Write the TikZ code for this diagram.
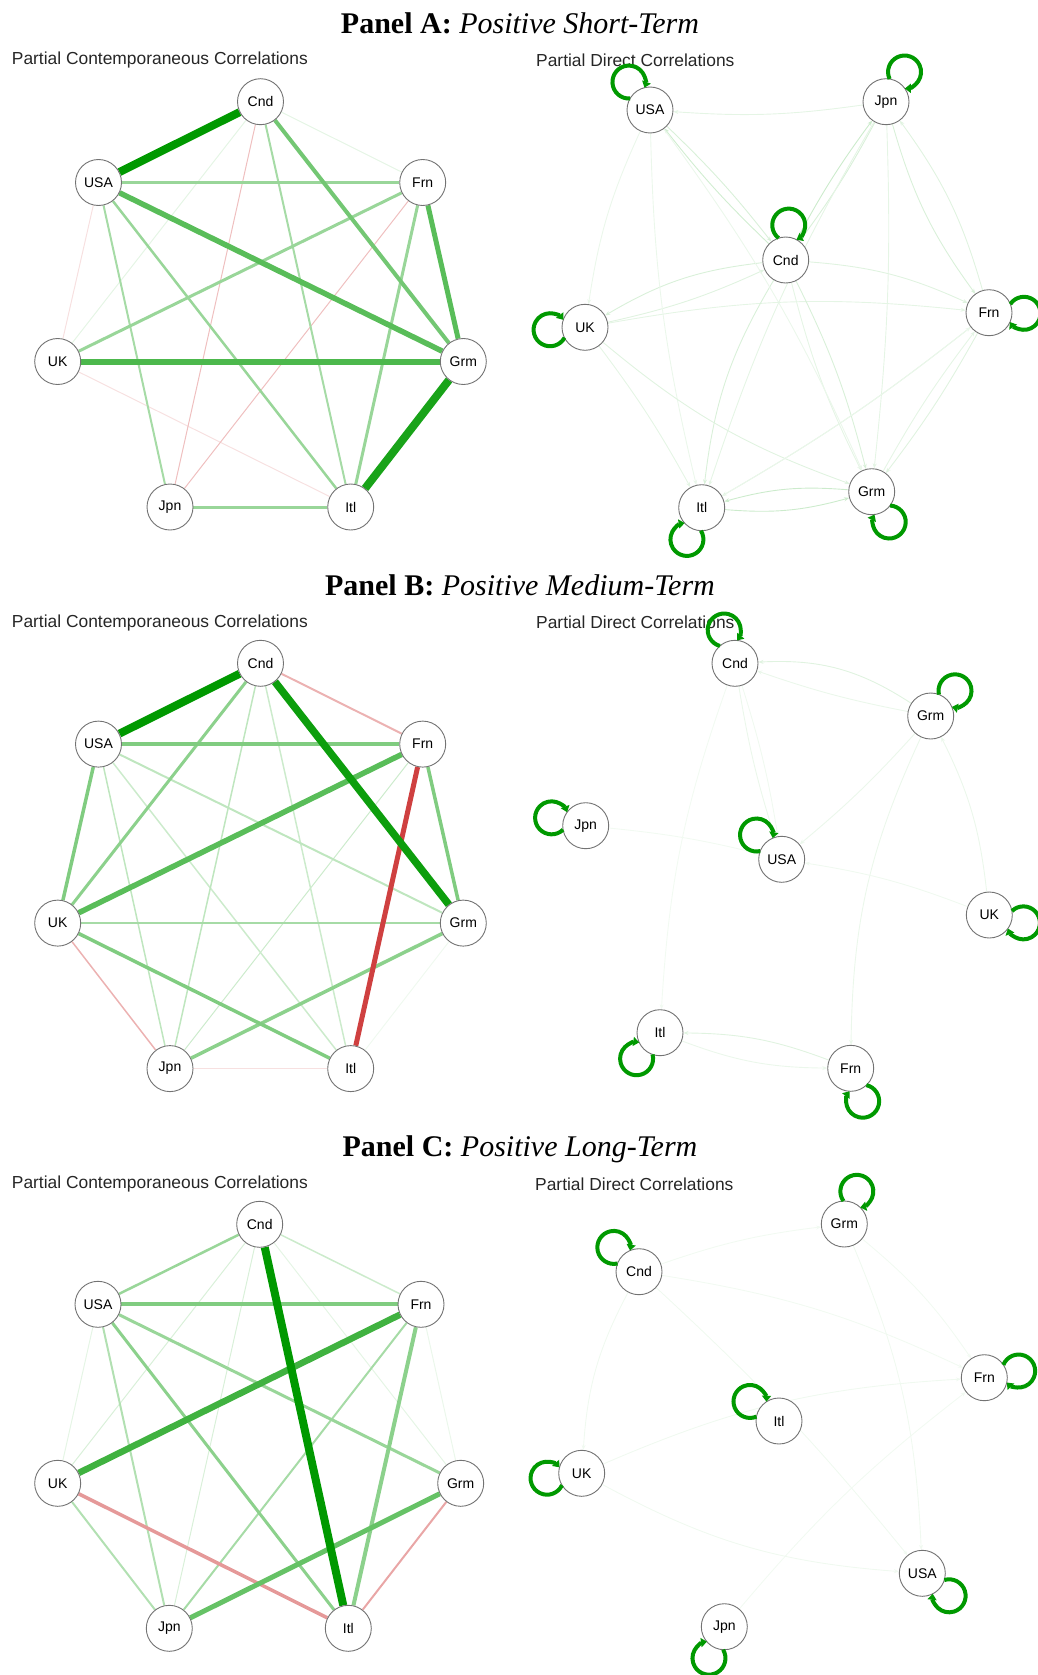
\documentclass[tikz,border=0pt]{standalone}
\usepackage{fontspec}
\setmainfont{Liberation Serif}
\newfontfamily\netfont{Liberation Sans}
\usetikzlibrary{arrows.meta,calc,backgrounds}
\definecolor{qgreen}{HTML}{009900}
\definecolor{qred}{HTML}{BF0000}
\tikzset{
  country/.style={circle, draw=black!55, line width=0.9pt, fill=white, minimum size=46pt, inner sep=0pt, font=\netfont\fontsize{14}{16}\selectfont},
  paneltitle/.style={anchor=base, inner sep=0pt, font=\fontsize{30}{34}\selectfont},
  graphtitle/.style={anchor=west, inner sep=0pt, text=black!85, font=\netfont\fontsize{17.4}{20}\selectfont},
  cedge/.style 2 args={draw=qgreen!#2, line width=#1pt},
  nedge/.style 2 args={draw=qred!#2, line width=#1pt},
  dedge/.style={draw=qgreen!#1, line width=0.9pt, -{Stealth[length=5pt,width=4pt]}},
  selfloop/.style={draw=qgreen, line width=4pt, -{Triangle[length=6pt,width=9pt]}}
}
\newcommand{\drawloop}[2]{\draw[selfloop] ($(#1)+(#2:35)$) ++(#2+213:16.5) arc[start angle=#2+213, delta angle=294, radius=16.5];}
\begin{document}
\begin{tikzpicture}[x=1pt,y=-1pt]
\useasboundingbox (0,0) rectangle (1038,1675);

\node[paneltitle] (titleA) at (520,34) {\textbf{Panel A:} \textit{Positive Short-Term}};
\node[paneltitle] (titleB) at (520,595.6) {\textbf{Panel B:} \textit{Positive Medium-Term}};
\node[paneltitle] (titleC) at (520,1156.6) {\textbf{Panel C:} \textit{Positive Long-Term}};

\node[graphtitle] (cA-title) at (11.7,60) {Partial Contemporaneous Correlations};
\node[graphtitle] (dA-title) at (536,60.7) {Partial Direct Correlations};
\node[graphtitle] (cB-title) at (11.7,622.7) {Partial Contemporaneous Correlations};
\node[graphtitle] (dB-title) at (536,622.7) {Partial Direct Correlations};
\node[graphtitle] (cC-title) at (11.7,1184) {Partial Contemporaneous Correlations};
\node[graphtitle] (dC-title) at (535,1184) {Partial Direct Correlations};

\node[country] (cA-Cnd) at (260.5,101.7) {Cnd};
\node[country] (cA-USA) at (98.5,182.5) {USA};
\node[country] (cA-Frn) at (422.7,182.5) {Frn};
\node[country] (cA-UK) at (57.7,361.5) {UK};
\node[country] (cA-Grm) at (463.3,361.5) {Grm};
\node[country] (cA-Jpn) at (170,507) {Jpn};
\node[country] (cA-Itl) at (350.7,507) {Itl};

\node[country] (dA-USA) at (650,110) {USA};
\node[country] (dA-Jpn) at (886,101.7) {Jpn};
\node[country] (dA-Cnd) at (785.7,260) {Cnd};
\node[country] (dA-UK) at (585,327.3) {UK};
\node[country] (dA-Frn) at (989,312.7) {Frn};
\node[country] (dA-Itl) at (701.7,507.7) {Itl};
\node[country] (dA-Grm) at (871.7,491.7) {Grm};

\node[country] (cB-Cnd) at (260.5,663.3) {Cnd};
\node[country] (cB-USA) at (98.5,744.1) {USA};
\node[country] (cB-Frn) at (422.7,744.1) {Frn};
\node[country] (cB-UK) at (57.7,923.1) {UK};
\node[country] (cB-Grm) at (463.3,923.1) {Grm};
\node[country] (cB-Jpn) at (170,1068.6) {Jpn};
\node[country] (cB-Itl) at (350.7,1068.6) {Itl};

\node[country] (dB-Cnd) at (735,663.3) {Cnd};
\node[country] (dB-Grm) at (930.7,716) {Grm};
\node[country] (dB-Jpn) at (585.7,825.7) {Jpn};
\node[country] (dB-USA) at (781.7,859.3) {USA};
\node[country] (dB-UK) at (989.3,915) {UK};
\node[country] (dB-Itl) at (660,1032.7) {Itl};
\node[country] (dB-Frn) at (850.7,1068.3) {Frn};

\node[country] (cC-Cnd) at (259.7,1224.3) {Cnd};
\node[country] (cC-USA) at (98,1304.3) {USA};
\node[country] (cC-Frn) at (421,1304.3) {Frn};
\node[country] (cC-UK) at (57.7,1483.3) {UK};
\node[country] (cC-Grm) at (460.7,1483.3) {Grm};
\node[country] (cC-Jpn) at (169.3,1628.3) {Jpn};
\node[country] (cC-Itl) at (348.3,1628.3) {Itl};

\node[country] (dC-Grm) at (844.3,1224) {Grm};
\node[country] (dC-Cnd) at (639,1271.7) {Cnd};
\node[country] (dC-Frn) at (984.3,1377.7) {Frn};
\node[country] (dC-Itl) at (779,1421) {Itl};
\node[country] (dC-UK) at (581.7,1473.3) {UK};
\node[country] (dC-USA) at (922.3,1573.3) {USA};
\node[country] (dC-Jpn) at (724.3,1626.7) {Jpn};

\begin{scope}[on background layer]
\draw[nedge={1}{12}] (cA-USA) -- (cA-UK);
\draw[nedge={1}{12}] (cA-UK) -- (cA-Itl);
\draw[cedge={1}{10}] (cA-Cnd) -- (cA-Frn);
\draw[cedge={1}{10}] (cA-Cnd) -- (cA-UK);
\draw[nedge={1}{25}] (cA-Cnd) -- (cA-Jpn);
\draw[nedge={1}{25}] (cA-Frn) -- (cA-Jpn);
\draw[cedge={2}{35}] (cA-Cnd) -- (cA-Itl);
\draw[cedge={2}{35}] (cA-USA) -- (cA-Jpn);
\draw[cedge={2.5}{40}] (cA-USA) -- (cA-Itl);
\draw[cedge={3}{40}] (cA-USA) -- (cA-Frn);
\draw[cedge={3}{40}] (cA-Frn) -- (cA-UK);
\draw[cedge={3}{40}] (cA-Frn) -- (cA-Itl);
\draw[cedge={3}{40}] (cA-Jpn) -- (cA-Itl);
\draw[cedge={4}{55}] (cA-Cnd) -- (cA-Grm);
\draw[cedge={5.5}{65}] (cA-USA) -- (cA-Grm);
\draw[cedge={5}{65}] (cA-Frn) -- (cA-Grm);
\draw[cedge={6}{70}] (cA-UK) -- (cA-Grm);
\draw[cedge={8}{90}] (cA-Grm) -- (cA-Itl);
\draw[cedge={8}{100}] (cA-USA) -- (cA-Cnd);

\draw[dedge=10] (dA-Jpn) to[bend left=6] (dA-USA);
\draw[dedge=18] (dA-Cnd) to[bend left=4] (dA-USA);
\draw[dedge=15] (dA-USA) to[bend left=4] (dA-Cnd);
\draw[dedge=20] (dA-Cnd) to[bend left=4] (dA-Jpn);
\draw[dedge=15] (dA-Jpn) to[bend left=4] (dA-Cnd);
\draw[dedge=15] (dA-Cnd) to[bend right=12] (dA-UK);
\draw[dedge=12] (dA-UK) to[bend right=6] (dA-Cnd);
\draw[dedge=12] (dA-Cnd) to[bend left=10] (dA-Frn);
\draw[dedge=10] (dA-UK) to[bend left=8] (dA-Frn);
\draw[dedge=15] (dA-Cnd) to[bend right=12] (dA-Itl);
\draw[dedge=15] (dA-Cnd) to[bend left=6] (dA-Grm);
\draw[dedge=10] (dA-Cnd) to[bend right=6] (dA-Grm);
\draw[dedge=8] (dA-USA) to[bend right=8] (dA-UK);
\draw[dedge=8] (dA-USA) to[bend right=6] (dA-Itl);
\draw[dedge=8] (dA-USA) to[bend left=6] (dA-Grm);
\draw[dedge=15] (dA-Jpn) to[bend right=10] (dA-Frn);
\draw[dedge=12] (dA-Frn) to[bend right=10] (dA-Jpn);
\draw[dedge=10] (dA-Jpn) to[bend right=6] (dA-Itl);
\draw[dedge=10] (dA-Jpn) to[bend left=4] (dA-Grm);
\draw[dedge=12] (dA-UK) to[bend right=10] (dA-Grm);
\draw[dedge=10] (dA-UK) to[bend left=4] (dA-Itl);
\draw[dedge=12] (dA-Frn) to[bend left=4] (dA-Itl);
\draw[dedge=12] (dA-Frn) to[bend left=4] (dA-Grm);
\draw[dedge=10] (dA-Grm) to[bend left=4] (dA-Frn);
\draw[dedge=8] (dA-Itl) to[bend right=4] (dA-Frn);
\draw[dedge=20] (dA-Itl) to[bend right=10] (dA-Grm);
\draw[dedge=20] (dA-Grm) to[bend right=10] (dA-Itl);

\draw[nedge={1}{12}] (cB-Jpn) -- (cB-Itl);
\draw[cedge={1}{6}] (cB-Grm) -- (cB-Itl);
\draw[cedge={1}{20}] (cB-Frn) -- (cB-Jpn);
\draw[cedge={1.5}{20}] (cB-Cnd) -- (cB-Itl);
\draw[cedge={1.5}{20}] (cB-USA) -- (cB-Itl);
\draw[cedge={1.5}{25}] (cB-Cnd) -- (cB-Jpn);
\draw[cedge={1.5}{25}] (cB-USA) -- (cB-Jpn);
\draw[cedge={2}{25}] (cB-USA) -- (cB-Grm);
\draw[nedge={1.5}{30}] (cB-UK) -- (cB-Jpn);
\draw[nedge={2}{30}] (cB-Cnd) -- (cB-Frn);
\draw[cedge={2.5}{35}] (cB-UK) -- (cB-Grm);
\draw[cedge={3}{45}] (cB-Cnd) -- (cB-UK);
\draw[cedge={3.5}{45}] (cB-Grm) -- (cB-Jpn);
\draw[cedge={3.5}{50}] (cB-USA) -- (cB-UK);
\draw[cedge={3.5}{50}] (cB-Frn) -- (cB-Grm);
\draw[cedge={3.5}{50}] (cB-UK) -- (cB-Itl);
\draw[cedge={4}{50}] (cB-USA) -- (cB-Frn);
\draw[cedge={5.5}{65}] (cB-Frn) -- (cB-UK);
\draw[nedge={5}{75}] (cB-Frn) -- (cB-Itl);
\draw[cedge={7.5}{95}] (cB-Cnd) -- (cB-Grm);
\draw[cedge={8}{100}] (cB-USA) -- (cB-Cnd);

\draw[dedge=12] (dB-Grm) to[bend right=18] (dB-Cnd);
\draw[dedge=8] (dB-Grm) to[bend left=4] (dB-Cnd);
\draw[dedge=8] (dB-Cnd) to[bend right=4] (dB-USA);
\draw[dedge=6] (dB-Cnd) to[bend left=4] (dB-USA);
\draw[dedge=8] (dB-Grm) to[bend left=4] (dB-USA);
\draw[dedge=8] (dB-Grm) to[bend right=12] (dB-Frn);
\draw[dedge=8] (dB-UK) to[bend right=10] (dB-Grm);
\draw[dedge=6] (dB-UK) to[bend right=6] (dB-USA);
\draw[dedge=5] (dB-Jpn) to[bend left=4] (dB-USA);
\draw[dedge=5] (dB-Cnd) to[bend right=8] (dB-Itl);
\draw[dedge=12] (dB-Frn) to[bend right=10] (dB-Itl);
\draw[dedge=8] (dB-Itl) to[bend right=10] (dB-Frn);

\draw[cedge={1}{8}] (cC-Frn) -- (cC-Grm);
\draw[cedge={1}{10}] (cC-USA) -- (cC-UK);
\draw[cedge={1}{10}] (cC-Cnd) -- (cC-Grm);
\draw[cedge={1}{15}] (cC-Cnd) -- (cC-UK);
\draw[cedge={1}{15}] (cC-Cnd) -- (cC-Jpn);
\draw[cedge={1.5}{20}] (cC-Cnd) -- (cC-Frn);
\draw[cedge={2}{30}] (cC-USA) -- (cC-Jpn);
\draw[cedge={2}{30}] (cC-UK) -- (cC-Jpn);
\draw[cedge={2}{35}] (cC-Frn) -- (cC-Jpn);
\draw[nedge={2}{35}] (cC-Grm) -- (cC-Itl);
\draw[cedge={2.5}{40}] (cC-Cnd) -- (cC-USA);
\draw[cedge={3}{40}] (cC-USA) -- (cC-Grm);
\draw[cedge={3}{45}] (cC-USA) -- (cC-Itl);
\draw[nedge={3.5}{40}] (cC-UK) -- (cC-Itl);
\draw[cedge={4}{45}] (cC-Frn) -- (cC-Itl);
\draw[cedge={4}{50}] (cC-USA) -- (cC-Frn);
\draw[cedge={5}{60}] (cC-Grm) -- (cC-Jpn);
\draw[cedge={6.5}{75}] (cC-Frn) -- (cC-UK);
\draw[cedge={8}{100}] (cC-Cnd) -- (cC-Itl);

\draw[dedge=6] (dC-Cnd) to[bend right=12] (dC-UK);
\draw[dedge=6] (dC-Cnd) to[bend left=4] (dC-USA);
\draw[dedge=5] (dC-Cnd) to[bend left=6] (dC-Grm);
\draw[dedge=5] (dC-Cnd) to[bend left=8] (dC-Frn);
\draw[dedge=6] (dC-Grm) to[bend left=10] (dC-USA);
\draw[dedge=5] (dC-Grm) to[bend left=8] (dC-Frn);
\draw[dedge=6] (dC-UK) to[bend right=12] (dC-USA);
\draw[dedge=6] (dC-UK) to[bend left=10] (dC-Frn);
\draw[dedge=5] (dC-Jpn) to[bend left=6] (dC-Frn);
\end{scope}

\drawloop{dA-USA}{233}
\drawloop{dA-Jpn}{302}
\drawloop{dA-Cnd}{275}
\drawloop{dA-UK}{176}
\drawloop{dA-Frn}{1}
\drawloop{dA-Itl}{115}
\drawloop{dA-Grm}{60}

\drawloop{dB-Cnd}{252}
\drawloop{dB-Grm}{314}
\drawloop{dB-Jpn}{193}
\drawloop{dB-USA}{224}
\drawloop{dB-UK}{13}
\drawloop{dB-Itl}{132}
\drawloop{dB-Frn}{70}

\drawloop{dC-Grm}{291}
\drawloop{dC-Cnd}{224}
\drawloop{dC-Frn}{349}
\drawloop{dC-Itl}{214}
\drawloop{dC-UK}{172}
\drawloop{dC-USA}{40}
\drawloop{dC-Jpn}{116}
\end{tikzpicture}
\end{document}
